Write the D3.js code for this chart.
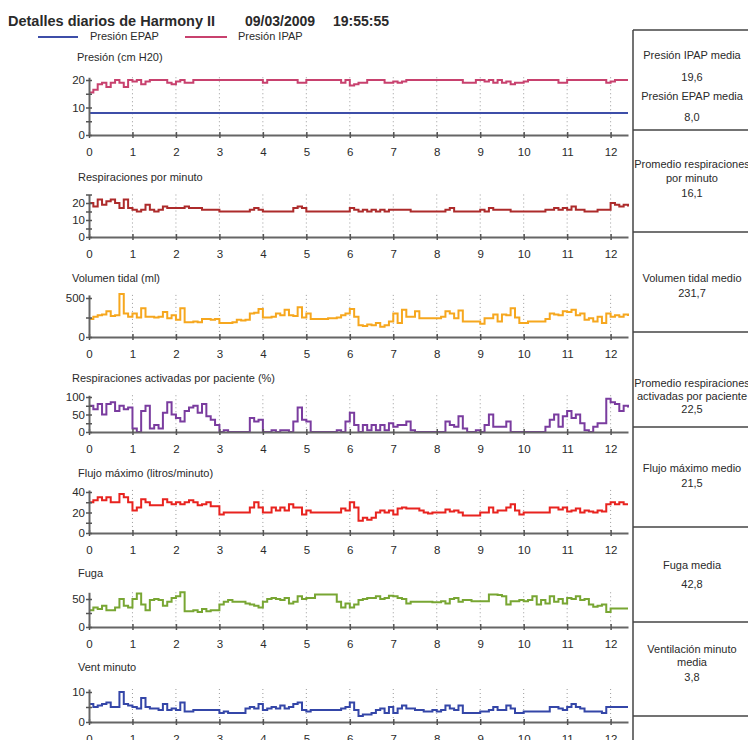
<!DOCTYPE html>
<html><head><meta charset="utf-8">
<script src="https://cdn.jsdelivr.net/npm/d3@7"></script>
<style>
body{margin:0;background:#fff}
svg text{font-family:"Liberation Sans",Arial,sans-serif;fill:#2a2a2a}
</style>
</head><body><svg id="c" width="748" height="740"></svg>
<script>
// ---------- DATA ----------
const titleText = "Detalles diarios de Harmony II";
const dateText = "09/03/2009";
const timeText = "19:55:55";
const hourTicks = [0,1,2,3,4,5,6,7,8,9,10,11,12];
const sampleStep = 0.1; // hours between samples

const epap = [8,8,8,8,8,8,8,8,8,8, 8,8,8,8,8,8,8,8,8,8, 8,8,8,8,8,8,8,8,8,8, 8,8,8,8,8,8,8,8,8,8,
  8,8,8,8,8,8,8,8,8,8, 8,8,8,8,8,8,8,8,8,8, 8,8,8,8,8,8,8,8,8,8, 8,8,8,8,8,8,8,8,8,8,
  8,8,8,8,8,8,8,8,8,8, 8,8,8,8,8,8,8,8,8,8, 8,8,8,8,8,8,8,8,8,8, 8,8,8,8,8,8,8,8,8,8, 8,8,8,8,8];
const ipap = [15.5,16.5,18.5,19,17.5,19,20,19,17.5,20, 19.5,20,18.5,19.5,20,20,20,20,19,18.5,
  19.5,20,19,19,20,20,20,20,20,20, 20,20,20,20,20,20,20,20,20,20,
  19,20,20,20,20,20,20,20,19,19, 20,20,20,20,20,20,20,20,19,20,
  18,18.5,19,19,20,20,20,20,19,19, 19.5,19,19.5,20,20,20,20,20,20,20,
  20,20,20,20,20,20,19,19,19,20, 20,19.5,20,19,20,19,19.5,18.5,19,19,
  19.5,20,20,20,20,20,20,20,19,19, 20,20,20,20,20,20,20,20,20,19, 19.5,20,20,20,20];
const respRate = [20,18,22,19,21,22,20,17,22,17, 16,15,16,19,16,15,16,18,17,17,
  17,17,18,17,17,17,16,16,16,16, 15,15,15,15,15,15,15,16,17,16,
  15,15,15,15,15,15,15,17,18,17, 15,15,15,15,15,15,15,15,15,15,
  17,16,15,16,15,16,15,16,15,16, 16,16,16,16,15,15,15,15,15,15,
  15,15,16,17,15,15,15,15,15,15, 16,15,17,16,16,16,16,15,15,15,
  15,15,15,15,15,16,16,17,16,17, 16,18,16,16,15,15,15,16,16,16, 20,19,18,19,18];
const tidal = [230,260,280,290,330,270,280,550,300,260, 300,250,370,260,260,250,260,320,240,280,
  220,370,190,190,200,190,230,230,220,230, 180,180,180,190,220,210,220,300,310,360,
  250,250,260,300,280,350,280,270,380,250, 300,230,230,230,230,240,240,250,280,300,
  360,260,150,140,160,150,180,130,150,200, 300,180,350,260,260,330,240,240,240,240,
  240,260,330,300,240,340,200,200,200,200, 170,240,240,290,200,290,280,370,250,180,
  180,200,200,200,200,230,300,290,280,330, 320,350,280,300,220,240,200,260,180,300, 260,280,260,290,270];
const triggered = [75,65,80,50,80,85,60,75,65,70, 10,0,60,75,10,20,10,55,85,50,
  40,30,60,70,75,55,80,45,35,20, 0,5,0,0,0,0,0,40,30,35,
  0,0,5,0,5,5,0,30,70,35, 30,0,0,0,0,0,0,5,0,30,
  55,20,0,20,5,20,5,20,5,25, 15,20,20,30,5,0,0,0,0,0,
  0,0,30,20,15,45,10,0,0,5, 0,20,50,15,15,15,30,0,0,0,
  0,0,0,0,0,15,35,50,15,45, 60,40,50,25,5,0,15,25,25,95, 85,80,60,75,70];
const peakFlow = [30,32,35,32,35,30,30,38,35,30, 22,25,33,30,27,27,27,33,30,28,
  30,28,30,32,30,27,28,30,26,26, 18,20,20,20,20,20,20,25,30,25,
  20,20,25,22,25,22,28,25,25,18, 22,20,20,20,20,20,20,20,24,22,
  30,25,12,15,13,15,20,22,20,22, 18,24,25,24,24,24,22,20,19,20,
  20,20,23,21,22,20,17,17,17,17, 20,20,25,20,22,22,25,28,22,18,
  20,20,20,20,20,20,25,25,23,25, 21,22,24,20,22,21,20,22,21,28, 30,28,30,28,28];
const leak = [30,35,32,38,30,30,35,50,38,35, 50,60,40,30,48,50,48,38,45,52,
  55,62,28,28,30,27,32,28,30,30, 40,45,48,45,45,45,42,40,38,35,
  45,50,52,50,48,52,42,45,55,50, 52,52,58,58,58,58,58,45,35,42,
  35,40,48,50,52,52,55,50,52,56, 55,52,50,42,45,45,45,45,45,44,
  44,46,42,50,52,45,48,48,46,46, 46,46,58,58,57,55,40,46,46,48,
  46,48,55,40,48,42,55,45,50,42, 52,50,55,48,50,40,36,38,40,27, 33,33,33,33,33];
const minuteVent = [6,5,5.5,6,6.5,5,5,10,6,5.5, 5,4.5,8,5,4.5,4.5,4,6,4,4.5,
  4,6.5,3.5,3.5,4,4,4,4,4,4, 3,3.5,3,3,3,3,4.5,5,4.5,6,
  4,4.5,5,4.5,5.5,4.5,5,6,6.5,4, 3.5,4,4,4,4,4,4,4,4.5,5,
  6.5,4,2,2.5,2.5,3,4,4.5,3,5, 3,4.5,5.5,4.5,4.5,4,4,3.5,3.5,4,
  3.5,4,5.5,4.5,4,5.5,3,3,3,3, 3.5,3.5,4,5,4,4,5.5,4.5,3,3,
  3.5,3.5,3.5,3.5,3.5,3.5,5,5,4.5,4, 5,6,5,4.5,3.5,3.5,3.5,3.5,3,5, 5,5,5,5,5];

const legendNames = ["Presión EPAP","Presión IPAP"];
const panelTitles = ["Presión (cm H20)","Respiraciones por minuto","Volumen tidal (ml)",
  "Respiraciones activadas por paciente (%)","Flujo máximo (litros/minuto)","Fuga","Vent minuto"];
const summaryLabels = [
  ["Presión IPAP media"],["Promedio respiraciones","por minuto"],["Volumen tidal medio"],
  ["Promedio respiraciones","activadas por paciente"],["Flujo máximo medio"],["Fuga media"],
  ["Ventilación minuto","media"]];
const summaryValues = ["19,6","16,1","231,7","22,5","21,5","42,8","3,8"];
const epapLabel = "Presión EPAP media", epapValue = "8,0";

// ---------- LAYOUT ----------
const svg = d3.select("#c");
const x = d3.scaleLinear().domain([0, 12.4]).range([89, 628]);
const C = {epap:"#3d4ea8", ipap:"#c8416e", resp:"#ad2b2b", tidal:"#f6a71e",
  trig:"#7a3c9f", flow:"#e8231f", leak:"#78a633", vent:"#3446a8"};

const panels = [
  {y0:135, ref:20, refY:80, max:21, ticks:[0,5,10,15,20], labels:[0,10,20], tx:77, ty:61, series:[[epap,C.epap],[ipap,C.ipap]]},
  {y0:237, ref:20, refY:203, max:25, ticks:[0,5,10,15,20,25], labels:[0,10,20], tx:78, ty:181, series:[[respRate,C.resp]]},
  {y0:337, ref:500, refY:298, max:540, ticks:[0,250,500], labels:[0,500], tx:72, ty:282, series:[[tidal,C.tidal]]},
  {y0:432, ref:100, refY:397, max:105, ticks:[0,25,50,75,100], labels:[0,50,100], tx:72, ty:382, series:[[triggered,C.trig]]},
  {y0:533, ref:40, refY:492, max:42, ticks:[0,10,20,30,40], labels:[0,20,40], tx:78, ty:477, series:[[peakFlow,C.flow]]},
  {y0:627, ref:50, refY:599, max:62, ticks:[0,25,50], labels:[0,50], tx:78, ty:577, series:[[leak,C.leak]]},
  {y0:722, ref:10, refY:692, max:11, ticks:[0,5,10], labels:[0,10], tx:78, ty:671, series:[[minuteVent,C.vent]]}
];

// Title + legend
svg.append("text").attr("x",8).attr("y",26).attr("font-size",14.5).attr("font-weight","bold").text(titleText);
svg.append("text").attr("x",245).attr("y",26).attr("font-size",14).attr("font-weight","bold").text(dateText);
svg.append("text").attr("x",333).attr("y",26).attr("font-size",14).attr("font-weight","bold").text(timeText);
[[38,78,90,C.epap],[185,227,238,C.ipap]].forEach((l,i)=>{
  svg.append("line").attr("x1",l[0]).attr("x2",l[1]).attr("y1",37).attr("y2",37).attr("stroke",l[3]).attr("stroke-width",2);
  svg.append("text").attr("x",l[2]).attr("y",40).attr("font-size",11).text(legendNames[i]);
});

panels.forEach((p,pi)=>{
  const k = (p.y0 - p.refY)/p.ref;
  const y = d3.scaleLinear().domain([0,p.max]).range([p.y0, p.y0 - p.max*k]);
  const g = svg.append("g");
  // grid
  g.selectAll("line.grid").data(hourTicks.filter(h=>h>0)).join("line")
    .attr("x1",d=>x(d)).attr("x2",d=>x(d)).attr("y1",y(p.max)).attr("y2",p.y0)
    .attr("stroke","#9a9a9a").attr("stroke-width",1).attr("stroke-dasharray","1,3");
  // lines
  p.series.forEach(([vals,col])=>{
    const line = d3.line().x((d,i)=>x(i*sampleStep)).y(d=>y(d)).curve(d3.curveStepAfter);
    g.append("path").attr("d",line(vals)).attr("fill","none").attr("stroke",col).attr("stroke-width",2);
  });
  // x axis
  const xa = g.append("g").attr("transform",`translate(0,${p.y0})`)
    .call(d3.axisBottom(x).tickValues(hourTicks).tickSizeInner(3).tickSizeOuter(0).tickPadding(10));
  xa.select(".domain").attr("stroke","#666").attr("stroke-width",2);
  xa.selectAll(".tick line").attr("y1",-3).attr("y2",3).attr("stroke","#555").attr("stroke-width",1.5);
  xa.selectAll(".tick text").attr("font-size",11.5).attr("font-family","Liberation Sans, Arial, sans-serif").attr("fill","#333");
  // y axis
  const ya = g.append("g").attr("transform","translate(89,0)")
    .call(d3.axisLeft(y).tickValues(p.ticks).tickSizeInner(3).tickSizeOuter(0).tickPadding(1)
      .tickFormat(d=>p.labels.includes(d)?d:""));
  ya.select(".domain").attr("stroke","#666").attr("stroke-width",2);
  ya.selectAll(".tick line").attr("x1",-3).attr("x2",3).attr("stroke","#555").attr("stroke-width",1.5);
  ya.selectAll(".tick text").attr("font-size",11.5).attr("font-family","Liberation Sans, Arial, sans-serif").attr("fill","#333");
  // title
  g.append("text").attr("x",p.tx).attr("y",p.ty).attr("font-size",11).text(panelTitles[pi]);
});

// Right summary table
const boxX = 633;
const dividers = [30,130,232,332,427,527,622,716];
svg.append("line").attr("x1",boxX).attr("x2",boxX).attr("y1",30).attr("y2",740).attr("stroke","#444").attr("stroke-width",1.5);
dividers.forEach(d=>svg.append("line").attr("x1",boxX).attr("x2",748).attr("y1",d).attr("y2",d).attr("stroke","#444").attr("stroke-width",1.5));
const cx = 692;
const textRows = [
  [[summaryLabels[0][0],59],[summaryValues[0],81],[epapLabel,100],[epapValue,121]],
  [[summaryLabels[1][0],168],[summaryLabels[1][1],182],[summaryValues[1],197]],
  [[summaryLabels[2][0],282],[summaryValues[2],297]],
  [[summaryLabels[3][0],387],[summaryLabels[3][1],400],[summaryValues[3],413]],
  [[summaryLabels[4][0],472],[summaryValues[4],487]],
  [[summaryLabels[5][0],569],[summaryValues[5],588]],
  [[summaryLabels[6][0],653],[summaryLabels[6][1],666],[summaryValues[6],681]]
];
textRows.forEach(rows=>rows.forEach(([t,yy])=>{
  svg.append("text").attr("x",cx).attr("y",yy).attr("text-anchor","middle").attr("font-size",11).text(t);
}));
</script>
</body></html>
